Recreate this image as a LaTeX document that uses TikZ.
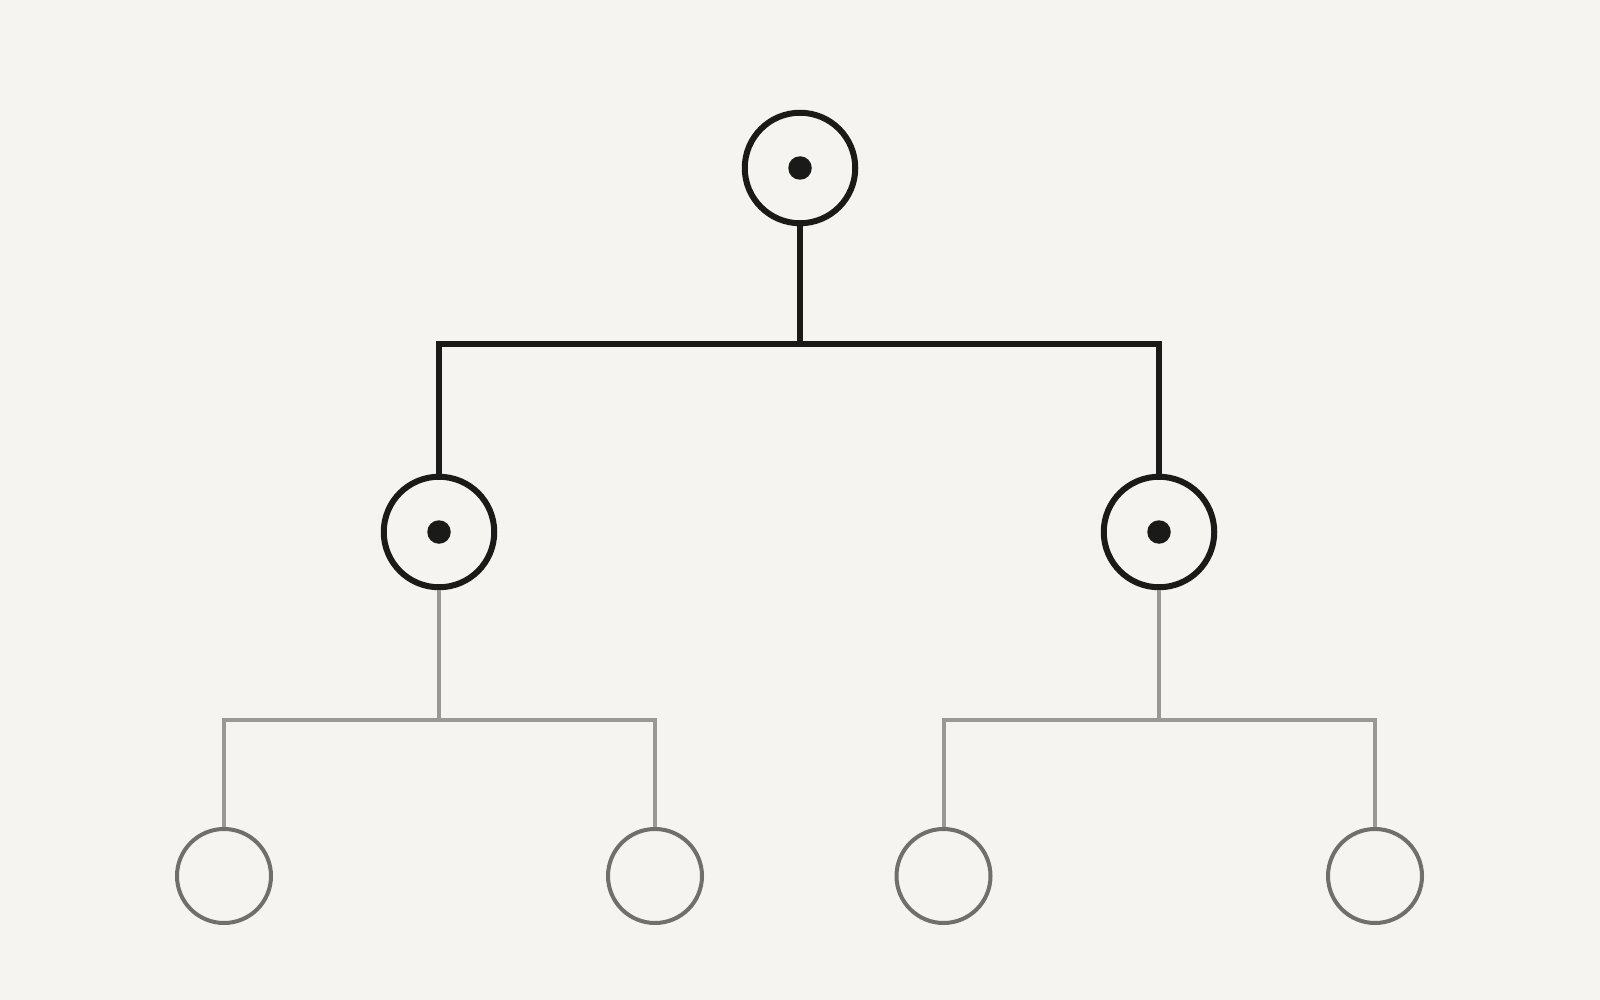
\documentclass[tikz,border=0pt]{standalone}
\begin{document}
\begin{tikzpicture}[x=1pt,y=-1pt,
  dark/.style={draw=ink,line width=6pt,circle,minimum size=110.5pt,inner sep=0pt,fill=bg},
  light/.style={draw=leafring,line width=4pt,circle,minimum size=94pt,inner sep=0pt,fill=bg},
  darkline/.style={draw=ink,line width=6pt,line join=miter},
  lightline/.style={draw=leafline,line width=4pt,line join=miter},
  dotmark/.style={fill=ink,circle,minimum size=23.5pt,inner sep=0pt,draw=none}]
\definecolor{bg}{HTML}{F5F4F0}
\definecolor{ink}{HTML}{1A1A18}
\definecolor{leafring}{HTML}{6F6F6B}
\definecolor{leafline}{HTML}{999994}
\fill[bg] (0,0) rectangle (1600,1000);
\useasboundingbox (0,0) rectangle (1600,1000);
% coordinates of bars
\coordinate (b1) at (800,344);
\coordinate (b2) at (439,720);
\coordinate (b3) at (1159,720);
% nodes
\node[dark] (top) at (800,168) {};
\node[dark] (l) at (439,532) {};
\node[dark] (r) at (1159,532) {};
\node[light] (ll) at (224,876) {};
\node[light] (lr) at (655,876) {};
\node[light] (rl) at (943.5,876) {};
\node[light] (rr) at (1375,876) {};
% connectors
\draw[darkline] (top.south) -- (b1);
\draw[darkline] (l.north) |- (b1) -| (r.north);
\draw[lightline] (l.south) -- (b2);
\draw[lightline] (ll.north) |- (b2) -| (lr.north);
\draw[lightline] (r.south) -- (b3);
\draw[lightline] (rl.north) |- (b3) -| (rr.north);
% dots
\node[dotmark] (d0) at (top) {};
\node[dotmark] (d1) at (l) {};
\node[dotmark] (d2) at (r) {};
\end{tikzpicture}
\end{document}
